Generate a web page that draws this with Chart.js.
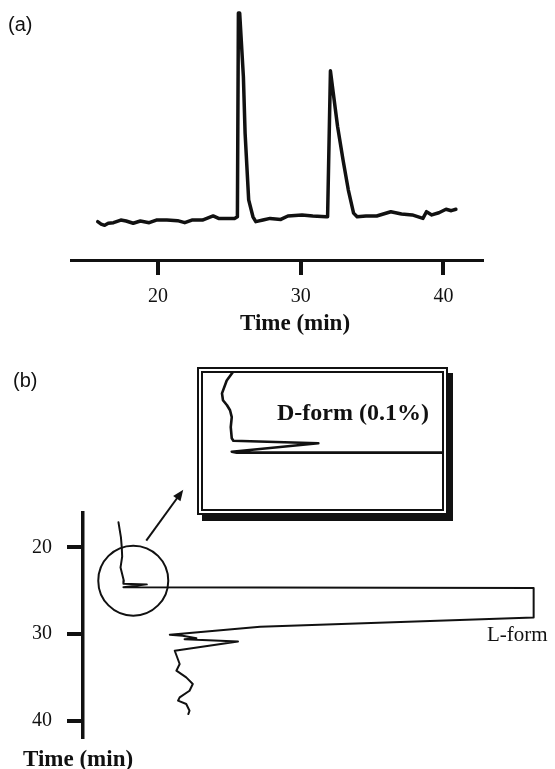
<!DOCTYPE html>
<html>
<head>
<meta charset="utf-8">
<script src="https://cdn.jsdelivr.net/npm/chart.js@4.4.1/dist/chart.umd.min.js"></script>
<style>
  html, body { margin: 0; padding: 0; background: #fff; }
  body { width: 555px; height: 769px; position: relative; overflow: hidden; color: #111;
         font-family: "Liberation Serif", "Times New Roman", serif; }
  .box { position: absolute; }
  .lbl { position: absolute; white-space: nowrap; line-height: 1; }
  .panel { font-family: "Liberation Sans", Arial, sans-serif; font-size: 20px; }
  .title { font-weight: bold; font-size: 23px; }
  #inset { position: absolute; left: 197px; top: 367px; width: 239px; height: 136px;
           border: 6px double #111; box-shadow: 5px 6px 0 #111; background: #fff; }
  #inset .plot { position: absolute; left: 0; top: 0; width: 239px; height: 136px; }
</style>
</head>
<body>
<div class="box" style="left:0;top:0;width:555px;height:340px"><canvas id="chartA"></canvas></div>
<div class="box" style="left:0;top:340px;width:555px;height:429px"><canvas id="chartB"></canvas></div>
<div id="inset"><div class="plot"><canvas id="chartInset"></canvas></div></div>

<div class="lbl panel" style="left:8px;top:14px">(a)</div>
<div class="lbl panel" style="left:13px;top:370px">(b)</div>
<div class="lbl title" style="left:195px;top:311px;width:200px;text-align:center">Time (min)</div>
<div class="lbl title" style="left:23px;top:747px">Time (min)</div>
<div class="lbl" style="left:277px;top:400px;font-weight:bold;font-size:24px">D-form (0.1%)</div>
<div class="lbl" style="left:487px;top:624px;font-size:21px">L-form</div>

<script>
const INK = '#111';
const SERIF = '"Liberation Serif", "Times New Roman", serif';

// (a) retention time (min) and detector response
const timeA = [15.77, 16.01, 16.26, 16.51, 16.88, 17.39, 17.76, 18.26, 18.76, 19.38,
               19.88, 20.62, 21.37, 21.87, 22.37, 23.11, 23.86, 24.24, 24.86, 25.36,
               25.56, 25.63, 25.72, 25.98, 26.10, 26.35, 26.65, 26.85, 27.35, 27.85,
               28.60, 29.10, 30.09, 30.84, 31.78, 31.88, 32.08, 32.28, 32.58, 32.96,
               33.33, 33.70, 33.95, 34.57, 35.32, 36.31, 37.06, 37.81, 38.56, 38.81,
               39.18, 39.68, 40.18, 40.55, 40.87];
const signalA = [-1.8, -3.0, -3.6, -2.6, -2.3, -1.0, -1.5, -2.6, -1.5, -2.3,
                 -1.0, -1.0, -1.3, -2.3, -1.0, -1.0, 1.0, -0.2, -0.2, -0.2,
                 0.6, 101, 101, 69.6, 41.7, 8.9, 0.6, -1.8, -1.0, -0.2,
                 -0.7, 1.0, 1.5, 1.0, 0.6, 0.6, 72.5, 61.5, 45.1, 28.7,
                 13.9, 2.4, 0.6, 1.0, 1.0, 3.1, 2.0, 1.5, -0.2, 3.1,
                 1.5, 2.6, 4.3, 3.6, 4.3];
const timeTicks = [20, 30, 40];

// (b) same kind of run plotted sideways: time down the axis, response to the right
const timeB = [17.11, 18.85, 20.00, 21.07, 22.31, 23.84, 24.19, 24.27, 24.59, 24.69,
               28.08, 29.15, 30.08, 30.19, 30.48, 30.59, 30.85, 31.93, 33.46, 34.23,
               35.00, 35.76, 36.54, 37.31, 37.69, 38.07, 38.85, 39.23];
const signalB = [-1.1, -0.5, -0.3, -0.2, -0.6, 0.2, 0.1, 5.8, 0.1, 100,
                 100, 33.4, 11.4, 14.5, 17.9, 15.0, 28.0, 12.6, 13.8, 13.0,
                 15.4, 17.0, 16.2, 13.8, 13.4, 15.4, 16.2, 15.9];

// enlarged view around the small D-form peak
const timeInset = [21.31, 21.71, 22.23, 22.51, 22.71, 22.91, 23.19, 23.59, 24.04, 24.14,
                   24.24, 24.58, 24.62, 24.62];
const signalInset = [0.14, -0.37, -0.70, -0.63, -0.35, -0.14, -0.02, -0.09, -0.02, 0.09,
                     6.0, -0.02, 0.33, 100];

// circled region on (b) that the inset enlarges
const zoomSpot = { time: 23.84, signal: 2.5, radius: 35 };

function toPoints(xs, ys) {
    return xs.map((x, i) => ({ x: x, y: ys[i] }));
}

function traceDataset(points, width) {
    return {
        data: points,
        showLine: true,
        borderColor: INK,
        borderWidth: width,
        pointRadius: 0,
        tension: 0,
        borderJoinStyle: 'round',
        borderCapStyle: 'round'
    };
}

const baseOptions = {
    responsive: true,
    maintainAspectRatio: false,
    animation: false,
    events: [],
    plugins: { legend: { display: false }, tooltip: { enabled: false } }
};

// circle around the D-form peak plus an arrow pointing to the inset
const zoomMarker = {
    id: 'zoomMarker',
    afterDraw(chart) {
        const ctx = chart.ctx;
        const cx = chart.scales.x.getPixelForValue(zoomSpot.signal);
        const cy = chart.scales.y.getPixelForValue(zoomSpot.time);
        ctx.save();
        ctx.strokeStyle = INK;
        ctx.fillStyle = INK;
        ctx.lineWidth = 2;
        ctx.beginPath();
        ctx.arc(cx, cy, zoomSpot.radius, 0, Math.PI * 2);
        ctx.stroke();

        const x1 = cx + 13, y1 = cy - 40;
        const x2 = cx + 50, y2 = cy - 91;
        const ang = Math.atan2(y2 - y1, x2 - x1);
        ctx.lineWidth = 2;
        ctx.beginPath();
        ctx.moveTo(x1, y1);
        ctx.lineTo(x2 - 6 * Math.cos(ang), y2 - 6 * Math.sin(ang));
        ctx.stroke();
        ctx.beginPath();
        ctx.moveTo(x2, y2);
        ctx.lineTo(x2 - 11 * Math.cos(ang) + 4.5 * Math.sin(ang), y2 - 11 * Math.sin(ang) - 4.5 * Math.cos(ang));
        ctx.lineTo(x2 - 11 * Math.cos(ang) - 4.5 * Math.sin(ang), y2 - 11 * Math.sin(ang) + 4.5 * Math.cos(ang));
        ctx.closePath();
        ctx.fill();
        ctx.restore();
    }
};

document.addEventListener('DOMContentLoaded', function() {
    createCharts();
});

function createCharts() {
    // (a) conventional chromatogram
    new Chart(document.getElementById('chartA'), {
        type: 'scatter',
        data: { datasets: [traceDataset(toPoints(timeA, signalA), 3.5)] },
        options: {
            ...baseOptions,
            layout: { padding: { left: 71, right: 73, top: 11, bottom: 0 } },
            scales: {
                x: {
                    type: 'linear', min: 13.9, max: 42.7,
                    afterBuildTicks: s => { s.ticks = timeTicks.map(v => ({ value: v })); },
                    afterFit: s => { s.height = 80; },
                    border: { display: true, color: INK, width: 3 },
                    grid: { drawOnChartArea: false, drawTicks: true, tickLength: 15, lineWidth: 4, color: INK },
                    ticks: { color: INK, padding: 10, maxRotation: 0, font: { family: SERIF, size: 20 } }
                },
                y: { display: false, min: -20.7, max: 102 }
            }
        }
    });

    // (b) sideways trace with the L-form peak running off scale
    new Chart(document.getElementById('chartB'), {
        type: 'scatter',
        data: { datasets: [traceDataset(toPoints(signalB, timeB), 2)] },
        options: {
            ...baseOptions,
            layout: { padding: { left: 0, right: 0, top: 172.7, bottom: 32 } },
            scales: {
                x: { display: false, min: -9.74, max: 105.2 },
                y: {
                    type: 'linear', reverse: true, min: 16.0, max: 41.88,
                    afterBuildTicks: s => { s.ticks = timeTicks.map(v => ({ value: v })); },
                    afterFit: s => { s.width = 83; },
                    border: { display: true, color: INK, width: 3.5 },
                    grid: { drawOnChartArea: false, drawTicks: true, tickLength: 16, lineWidth: 4, color: INK },
                    ticks: { color: INK, padding: 15, font: { family: SERIF, size: 20 } }
                }
            }
        },
        plugins: [zoomMarker]
    });

    // inset: the D-form region enlarged
    new Chart(document.getElementById('chartInset'), {
        type: 'scatter',
        data: { datasets: [traceDataset(toPoints(signalInset, timeInset), 2.6)] },
        options: {
            ...baseOptions,
            layout: { padding: 0 },
            scales: {
                x: { display: false, min: -2.02, max: 14.6 },
                y: { display: false, reverse: true, min: 21.41, max: 26.89 }
            }
        }
    });
}
</script>
</body>
</html>
